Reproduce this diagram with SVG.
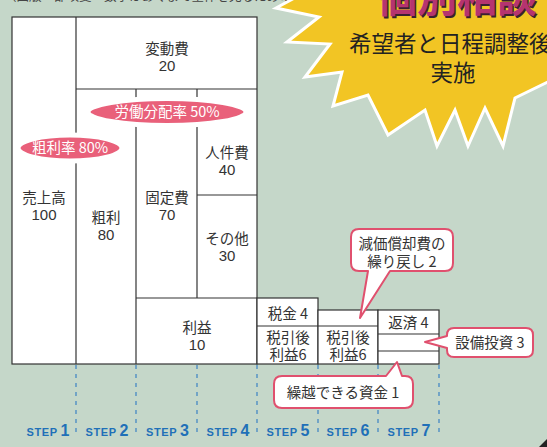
<svg xmlns="http://www.w3.org/2000/svg" width="547" height="447" viewBox="0 0 547 447">
<style>
  .bx { fill: #ffffff; stroke: #333333; stroke-width: 1.2; }
  .ln { stroke: #333333; stroke-width: 1.2; fill: none; }
  .t { font-family: "Noto Sans CJK JP", "Noto Sans", sans-serif; font-size: 14.5px; fill: #333333; text-anchor: middle; }
  .n { font-family: "Liberation Sans", "Noto Sans", sans-serif; font-size: 15px; fill: #333333; text-anchor: middle; }
  .pill { fill: #e9607a; stroke: #ffffff; stroke-width: 5; }
  .pt { font-family: "Noto Sans CJK JP", "Noto Sans", sans-serif; font-size: 14.5px; fill: #ffffff; text-anchor: middle; }
  .co { fill: #ffffff; stroke: #e0506e; stroke-width: 2; stroke-linejoin: round; }
  .dash { stroke: #3b82c4; stroke-width: 1.2; stroke-dasharray: 4 5; }
  .step { font-family: "Liberation Sans", "Noto Sans", sans-serif; font-weight: bold; fill: #1f70b8; text-anchor: middle; }
</style>
<rect x="0" y="0" width="547" height="447" fill="#c5d7c9"/>
<text x="4" y="0.5" font-family="Noto Sans CJK JP, sans-serif" font-size="12.5" fill="#444444">（図版一部改変：数字はあくまで全体を見るための一例）</text>

<g id="starburst">
  <polygon points="300,-5 276,8 319,17 287,42 330,44 305,77 342,72 333,106 368,95 388,135 425,110 437,146 455,110 468,146 485,108 503,146 515,98 552,80 560,-5" fill="#f2c524" stroke="#ffffff" stroke-width="3" stroke-linejoin="miter"/>
  <text x="378.5" y="13.5" font-family="Noto Sans CJK JP, sans-serif" font-size="40" font-weight="bold" fill="#3a2030">個別相談</text>
  <text x="377" y="12" font-family="Noto Sans CJK JP, sans-serif" font-size="40" font-weight="bold" fill="#b53470">個別相談</text>
  <text x="349" y="51.5" font-family="Noto Sans CJK JP, sans-serif" font-size="22.5" fill="#222222">希望者と日程調整後</text>
  <text x="453" y="80.5" font-family="Noto Sans CJK JP, sans-serif" font-size="22.5" fill="#222222" text-anchor="middle">実施</text>
</g>

<g id="main-box">
  <rect class="bx" x="12" y="17" width="245" height="347"/>
  <line class="ln" x1="76" y1="17" x2="76" y2="364"/>
  <line class="ln" x1="76" y1="89" x2="257" y2="89"/>
  <line class="ln" x1="136" y1="89" x2="136" y2="364"/>
  <line class="ln" x1="197" y1="89" x2="197" y2="298"/>
  <line class="ln" x1="197" y1="195" x2="257" y2="195"/>
  <line class="ln" x1="136" y1="298" x2="257" y2="298"/>
</g>

<g id="step1-uriage">
  <text class="t" x="44" y="202.5">売上高</text>
  <text class="n" x="44" y="219.5">100</text>
</g>
<g id="hendohi">
  <text class="t" x="167" y="53.5">変動費</text>
  <text class="n" x="167" y="70.5">20</text>
</g>
<g id="arari">
  <text class="t" x="106" y="222.5">粗利</text>
  <text class="n" x="106" y="239.5">80</text>
</g>
<g id="koteihi">
  <text class="t" x="167" y="202.5">固定費</text>
  <text class="n" x="167" y="219.5">70</text>
</g>
<g id="jinkenhi">
  <text class="t" x="227" y="157.5">人件費</text>
  <text class="n" x="227" y="174.5">40</text>
</g>
<g id="sonota">
  <text class="t" x="227" y="243.5">その他</text>
  <text class="n" x="227" y="261">30</text>
</g>
<g id="rieki">
  <text class="t" x="197" y="332.5">利益</text>
  <text class="n" x="197" y="349.5">10</text>
</g>

<g id="rodo-bunpai">
  <ellipse class="pill" cx="167" cy="112" rx="79" ry="13.5"/>
  <text class="pt" x="167" y="117">労働分配率 50%</text>
</g>
<g id="arari-ritsu">
  <ellipse class="pill" cx="70" cy="148" rx="52" ry="13"/>
  <text class="pt" x="70" y="153">粗利率 80%</text>
</g>

<g id="step5">
  <rect class="bx" x="257" y="298" width="61" height="66"/>
  <line class="ln" x1="257" y1="326" x2="318" y2="326"/>
  <text class="t" x="288" y="318.5">税金 4</text>
  <text class="t" x="288" y="342.5">税引後</text>
  <text class="t" x="288" y="359.5">利益6</text>
</g>
<g id="step6">
  <rect class="bx" x="318" y="310" width="60" height="54"/>
  <line class="ln" x1="318" y1="326" x2="378" y2="326"/>
  <text class="t" x="348" y="342.5">税引後</text>
  <text class="t" x="348" y="359.5">利益6</text>
</g>
<g id="step7">
  <rect class="bx" x="378" y="310" width="61" height="54"/>
  <line class="ln" x1="378" y1="334" x2="439" y2="334"/>
  <line class="ln" x1="378" y1="351" x2="439" y2="351"/>
  <text class="t" x="408.5" y="328">返済 4</text>
</g>

<g id="connectors">
  <line class="dash" x1="76" y1="365" x2="76" y2="437"/>
  <line class="dash" x1="136" y1="365" x2="136" y2="437"/>
  <line class="dash" x1="197" y1="365" x2="197" y2="437"/>
  <line class="dash" x1="257" y1="365" x2="257" y2="437"/>
  <line class="dash" x1="318" y1="365" x2="318" y2="437"/>
  <line class="dash" x1="378" y1="365" x2="378" y2="437"/>
  <line class="dash" x1="439" y1="365" x2="439" y2="437"/>
</g>

<g id="callout-genka">
  <path class="co" d="M359,229 H445 Q453,229 453,237 V263 Q453,271 445,271 H390 L360,318 L368,271 H359 Q351,271 351,263 V237 Q351,229 359,229 Z"/>
  <text class="t" x="402" y="248.5">減価償却費の</text>
  <text class="t" x="402" y="266.5">繰り戻し 2</text>
</g>
<g id="callout-setsubi">
  <path class="co" d="M454,328 H526 Q533,328 533,335 V350 Q533,357 526,357 H454 Q447,357 447,350 V348 L425,342 L447,336 V335 Q447,328 454,328 Z"/>
  <text class="t" x="490" y="348">設備投資 3</text>
</g>
<g id="callout-kurikoshi">
  <path class="co" d="M282,376 H386 L397,362 L402,376 H405 Q413,376 413,384 V400 Q413,408 405,408 H282 Q274,408 274,400 V384 Q274,376 282,376 Z"/>
  <text class="t" x="343" y="397.5">繰越できる資金 1</text>
</g>

<g id="step-labels">
  <text class="step" x="48" y="436"><tspan font-size="11" letter-spacing="0.6">STEP</tspan><tspan font-size="16" dx="3">1</tspan></text>
  <text class="step" x="107" y="436"><tspan font-size="11" letter-spacing="0.6">STEP</tspan><tspan font-size="16" dx="3">2</tspan></text>
  <text class="step" x="167.5" y="436"><tspan font-size="11" letter-spacing="0.6">STEP</tspan><tspan font-size="16" dx="3">3</tspan></text>
  <text class="step" x="228" y="436"><tspan font-size="11" letter-spacing="0.6">STEP</tspan><tspan font-size="16" dx="3">4</tspan></text>
  <text class="step" x="288" y="436"><tspan font-size="11" letter-spacing="0.6">STEP</tspan><tspan font-size="16" dx="3">5</tspan></text>
  <text class="step" x="348" y="436"><tspan font-size="11" letter-spacing="0.6">STEP</tspan><tspan font-size="16" dx="3">6</tspan></text>
  <text class="step" x="409" y="436"><tspan font-size="11" letter-spacing="0.6">STEP</tspan><tspan font-size="16" dx="3">7</tspan></text>
</g>
<polygon points="547,439 547,447 539,447" fill="#222222"/>
</svg>
